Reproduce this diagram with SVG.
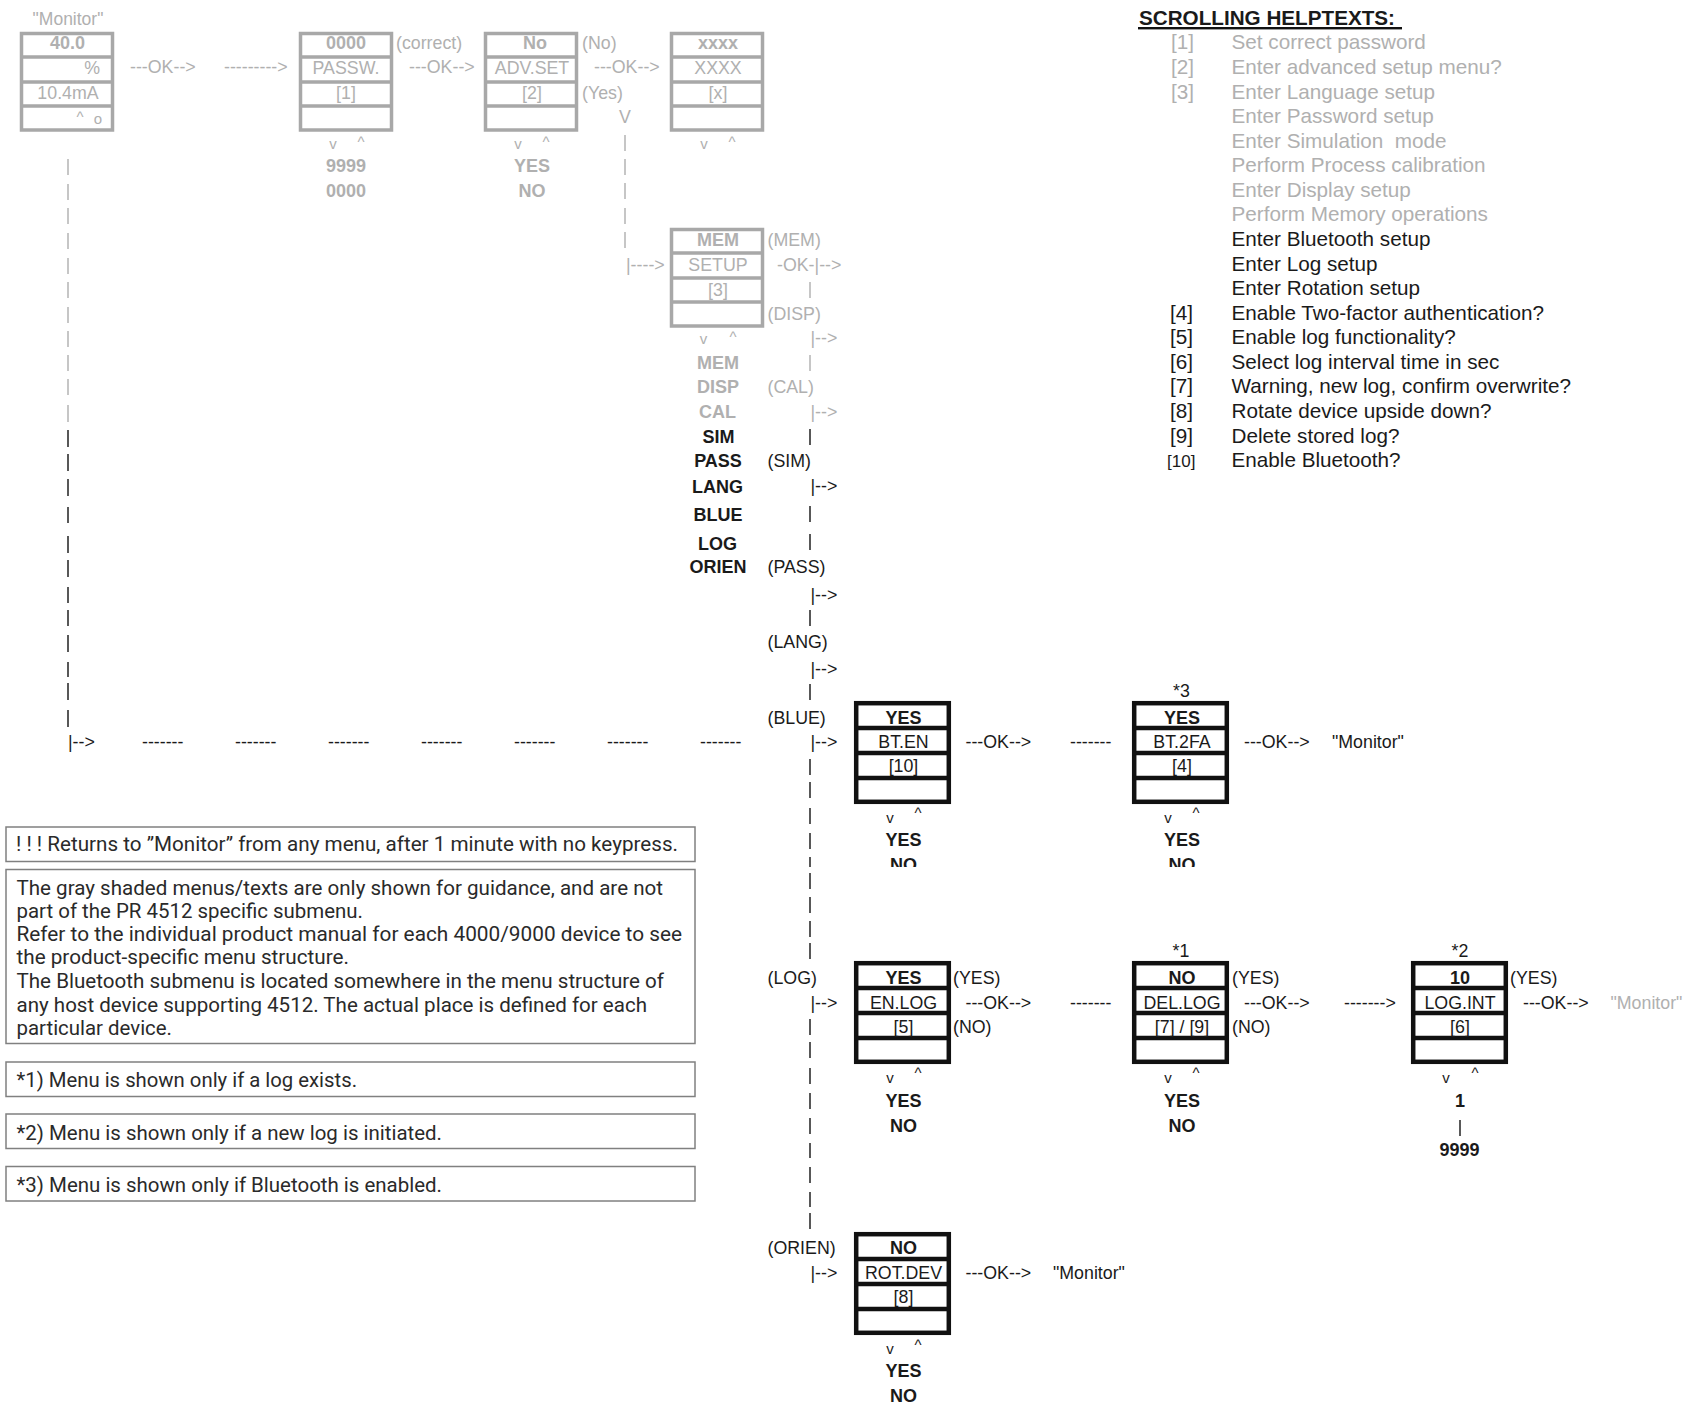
<svg xmlns="http://www.w3.org/2000/svg" width="1696" height="1410" viewBox="0 0 1696 1410">
<style>
text{font-family:"Liberation Sans",Arial,sans-serif;font-size:17.8px;fill:#1a1a1a}
.g,.g text{fill:#b0b0b0}
.c{text-anchor:middle}
.b{font-weight:bold;font-size:18px}
.gb{font-weight:bold;font-size:18px;fill:#a2a2a2}
.sm{font-size:15px}
.box{fill:#fff;stroke:#111;stroke-width:4.5}
.gbox{fill:#fff;stroke:#a8a8a8;stroke-width:3.5}
.h{font-size:20.7px}
.n{font-family:Roboto,"Open Sans",sans-serif;font-size:20px;fill:#2a2a2a}
.nb{fill:#fff;stroke:#808080;stroke-width:1.5}
.pg{fill:none;stroke:#b4b4b4;stroke-width:1.5}
.pb{fill:none;stroke:#222;stroke-width:1.5}
</style>
<defs>
<g id="gm"><rect class="gbox" x="1.500" y="1.500" width="91" height="96.500"/><path class="gbox" d="M0 25H94M0 50H94M0 74H94"/></g>
<g id="bm"><rect class="box" x="2.200" y="2.200" width="92.600" height="98.600"/><path class="box" d="M0 27H97M0 52H97M0 77H97"/></g>
<clipPath id="cut"><rect x="800" y="840" width="500" height="27"/></clipPath>
</defs>

<g id="connectors">
<path class="pg" d="M68 159v16M68 184v16M68 208v16M68 233v16M68 258v16M68 282v16M68 307v16M68 331v16M68 355v16M68 379v16M68 405v17"/>
<path class="pb" d="M68 430v17M68 454v17M68 479v17M68 507v16M68 536v17M68 560v17M68 587v16M68 610v16M68 635v17M68 662v15M68 683v17M68 710v17"/>
<path class="pg" d="M625 135v16M625 159v16M625 183v16M625 208v16M625 232v16"/>
<path class="pg" d="M810 282v16M810 355v16"/>
<path class="pb" d="M810 429v16M810 506v16M810 534v16M810 610v16M810 684v16M810 759v16M810 782v16M810 808v16M810 833v16M810 857v10M810 873v16M810 897v16M810 921v16M810 943v16M810 1019v16M810 1042v16M810 1068v16M810 1093v16M810 1118v16M810 1143v15M810 1167v16M810 1192v15M810 1213v16"/>
<path class="pb" d="M1460 1120v16"/>
<g class="g">
<text x="130" y="73">---OK--&gt;</text>
<text x="224" y="73">---------&gt;</text>
<text x="409" y="73">---OK--&gt;</text>
<text x="594" y="73">---OK--&gt;</text>
<text x="625" y="123" class="c">V</text>
<text x="626" y="271">|----&gt;</text>
<text x="777" y="271">-OK-|--&gt;</text>
<text x="810.500" y="344">|--&gt;</text>
<text x="810.500" y="418">|--&gt;</text>
</g>
<text x="810.500" y="492">|--&gt;</text>
<text x="810.500" y="600.500">|--&gt;</text>
<text x="810.500" y="674.500">|--&gt;</text>
<text x="810.500" y="748">|--&gt;</text>
<text x="68" y="748">|--&gt;</text>
<text x="142" y="748">-------</text>
<text x="235" y="748">-------</text>
<text x="328" y="748">-------</text>
<text x="421" y="748">-------</text>
<text x="514" y="748">-------</text>
<text x="607" y="748">-------</text>
<text x="700" y="748">-------</text>
<text x="965.500" y="748">---OK--&gt;</text>
<text x="1070" y="748">-------</text>
<text x="1244" y="748">---OK--&gt;</text>
<text x="810.500" y="1009">|--&gt;</text>
<text x="965.500" y="1009">---OK--&gt;</text>
<text x="1070" y="1009">-------</text>
<text x="1244" y="1009">---OK--&gt;</text>
<text x="1344" y="1009">-------&gt;</text>
<text x="1523" y="1009">---OK--&gt;</text>
<text x="810.500" y="1279">|--&gt;</text>
<text x="965.500" y="1279">---OK--&gt;</text>
</g>

<g id="monitor" class="g">
<text x="68" y="25" class="c" style="font-size:17.500px">"Monitor"</text>
<use href="#gm" x="20" y="32"/>
<text x="67.500" y="49" class="c gb">40.0</text>
<text x="100" y="74" text-anchor="end">%</text>
<text x="68" y="99" class="c">10.4mA</text>
<text x="80" y="122" class="c sm">^</text>
<text x="98" y="124" class="c sm">o</text>
</g>
<g id="passw" class="g">
<use href="#gm" x="299" y="32"/>
<text x="346" y="49" class="c gb">0000</text>
<text x="346" y="74" class="c">PASSW.</text>
<text x="346" y="99" class="c">[1]</text>
<text x="333" y="149" class="c sm">v</text>
<text x="361" y="147" class="c sm">^</text>
<text x="346" y="172" class="c gb">9999</text>
<text x="346" y="197" class="c gb">0000</text>
<text x="396" y="49">(correct)</text>
</g>
<g id="advset" class="g">
<use href="#gm" x="484" y="32"/>
<text x="535" y="49" class="c gb">No</text>
<text x="532" y="74" class="c">ADV.SET</text>
<text x="532" y="99" class="c">[2]</text>
<text x="518" y="149" class="c sm">v</text>
<text x="546" y="147" class="c sm">^</text>
<text x="532" y="172" class="c gb">YES</text>
<text x="532" y="197" class="c gb">NO</text>
<text x="582" y="49">(No)</text>
<text x="582" y="99">(Yes)</text>
</g>
<g id="xxxx" class="g">
<use href="#gm" x="670" y="32"/>
<text x="718" y="49" class="c gb">xxxx</text>
<text x="718" y="74" class="c">XXXX</text>
<text x="718" y="99" class="c">[x]</text>
<text x="704" y="149" class="c sm">v</text>
<text x="732" y="147" class="c sm">^</text>
</g>
<g id="memsetup" class="g">
<use href="#gm" x="670" y="228"/>
<text x="718" y="246" class="c gb">MEM</text>
<text x="718" y="271" class="c">SETUP</text>
<text x="718" y="296" class="c">[3]</text>
<text x="703.500" y="344" class="c sm">v</text>
<text x="733" y="342" class="c sm">^</text>
<text x="718" y="369" class="c gb">MEM</text>
<text x="718" y="393" class="c gb">DISP</text>
<text x="717.500" y="418" class="c gb">CAL</text>
<text x="767.500" y="246">(MEM)</text>
<text x="767.500" y="320">(DISP)</text>
<text x="767.500" y="393">(CAL)</text>
</g>
<g id="memitems">
<text x="718.500" y="443" class="c b">SIM</text>
<text x="718" y="467" class="c b">PASS</text>
<text x="717.500" y="492.500" class="c b">LANG</text>
<text x="718" y="520.500" class="c b">BLUE</text>
<text x="717.500" y="549.500" class="c b">LOG</text>
<text x="718" y="573" class="c b">ORIEN</text>
<text x="767.500" y="467">(SIM)</text>
<text x="767.500" y="573">(PASS)</text>
<text x="767.500" y="648">(LANG)</text>
<text x="767.500" y="724">(BLUE)</text>
<text x="767.500" y="984">(LOG)</text>
<text x="767.500" y="1254">(ORIEN)</text>
</g>
<g id="bten">
<use href="#bm" x="854" y="701"/>
<text x="903.500" y="724" class="c b">YES</text>
<text x="903.500" y="748" class="c">BT.EN</text>
<text x="903.500" y="772" class="c">[10]</text>
<text x="890" y="823" class="c sm">v</text>
<text x="918" y="818" class="c sm">^</text>
<text x="903.500" y="846" class="c b">YES</text>
<text x="903.500" y="870.500" class="c b" clip-path="url(#cut)">NO</text>
</g>
<g id="bt2fa">
<use href="#bm" x="1132" y="701"/>
<text x="1181.500" y="697" class="c">*3</text>
<text x="1182" y="724" class="c b">YES</text>
<text x="1182" y="748" class="c">BT.2FA</text>
<text x="1182" y="772" class="c">[4]</text>
<text x="1168" y="823" class="c sm">v</text>
<text x="1196" y="818" class="c sm">^</text>
<text x="1182" y="846" class="c b">YES</text>
<text x="1182" y="870.500" class="c b" clip-path="url(#cut)">NO</text>
<text x="1332" y="748">"Monitor"</text>
</g>
<g id="enlog">
<use href="#bm" x="854" y="961"/>
<text x="903.500" y="984" class="c b">YES</text>
<text x="903.500" y="1009" class="c">EN.LOG</text>
<text x="903.500" y="1033" class="c">[5]</text>
<text x="953" y="984">(YES)</text>
<text x="953" y="1033">(NO)</text>
<text x="890" y="1083" class="c sm">v</text>
<text x="918" y="1078" class="c sm">^</text>
<text x="903.500" y="1107" class="c b">YES</text>
<text x="903.500" y="1132" class="c b">NO</text>
</g>
<g id="dellog">
<use href="#bm" x="1132" y="961"/>
<text x="1181" y="957" class="c">*1</text>
<text x="1182" y="984" class="c b">NO</text>
<text x="1182" y="1009" class="c">DEL.LOG</text>
<text x="1182" y="1033" class="c">[7] / [9]</text>
<text x="1232" y="984">(YES)</text>
<text x="1232" y="1033">(NO)</text>
<text x="1168" y="1083" class="c sm">v</text>
<text x="1196" y="1078" class="c sm">^</text>
<text x="1182" y="1107" class="c b">YES</text>
<text x="1182" y="1132" class="c b">NO</text>
</g>
<g id="logint">
<use href="#bm" x="1411" y="961"/>
<text x="1460" y="957" class="c">*2</text>
<text x="1460" y="984" class="c b">10</text>
<text x="1460" y="1009" class="c">LOG.INT</text>
<text x="1460" y="1033" class="c">[6]</text>
<text x="1510" y="984">(YES)</text>
<text x="1446" y="1083" class="c sm">v</text>
<text x="1475" y="1078" class="c sm">^</text>
<text x="1460" y="1107" class="c b">1</text>
<text x="1459.500" y="1156" class="c b">9999</text>
<text x="1610.500" y="1009" style="fill:#b0b0b0">"Monitor"</text>
</g>
<g id="rotdev">
<use href="#bm" x="854" y="1232"/>
<text x="903.500" y="1254" class="c b">NO</text>
<text x="903.500" y="1279" class="c">ROT.DEV</text>
<text x="903.500" y="1303" class="c">[8]</text>
<text x="890" y="1354" class="c sm">v</text>
<text x="918" y="1350" class="c sm">^</text>
<text x="903.500" y="1377" class="c b">YES</text>
<text x="903.500" y="1402" class="c b">NO</text>
<text x="1053" y="1279">"Monitor"</text>
</g>

<g id="helptexts">
<text x="1139" y="25" class="b" style="font-size:20px" textLength="256" lengthAdjust="spacingAndGlyphs">SCROLLING HELPTEXTS:</text>
<rect x="1138" y="27" width="264" height="2.400" fill="#111"/>
<g class="g">
<text x="1171" y="49" class="h">[1]</text><text x="1231.500" y="49" class="h">Set correct password</text>
<text x="1171" y="74" class="h">[2]</text><text x="1231.500" y="74" class="h">Enter advanced setup menu?</text>
<text x="1171" y="99" class="h">[3]</text><text x="1231.500" y="99" class="h">Enter Language setup</text>
<text x="1231.500" y="123" class="h">Enter Password setup</text>
<text x="1231.500" y="148" class="h" xml:space="preserve">Enter Simulation  mode</text>
<text x="1231.500" y="172" class="h">Perform Process calibration</text>
<text x="1231.500" y="197" class="h">Enter Display setup</text>
<text x="1231.500" y="221" class="h">Perform Memory operations</text>
</g>
<text x="1231.500" y="246" class="h">Enter Bluetooth setup</text>
<text x="1231.500" y="271" class="h">Enter Log setup</text>
<text x="1231.500" y="295" class="h">Enter Rotation setup</text>
<text x="1170" y="320" class="h">[4]</text><text x="1231.500" y="320" class="h">Enable Two-factor authentication?</text>
<text x="1170" y="344" class="h">[5]</text><text x="1231.500" y="344" class="h">Enable log functionality?</text>
<text x="1170" y="369" class="h">[6]</text><text x="1231.500" y="369" class="h">Select log interval time in sec</text>
<text x="1170" y="393" class="h">[7]</text><text x="1231.500" y="393" class="h">Warning, new log, confirm overwrite?</text>
<text x="1170" y="418" class="h">[8]</text><text x="1231.500" y="418" class="h">Rotate device upside down?</text>
<text x="1170" y="442.500" class="h">[9]</text><text x="1231.500" y="442.500" class="h">Delete stored log?</text>
<text x="1167" y="467" style="font-size:17px">[10]</text><text x="1231.500" y="467" class="h">Enable Bluetooth?</text>
</g>

<g id="note-returns">
<rect class="nb" x="6" y="827" width="689" height="34.500"/>
<text class="n" x="16" y="851" textLength="662" lengthAdjust="spacingAndGlyphs">! ! ! Returns to ”Monitor” from any menu, after 1 minute with no keypress.</text>
</g>
<g id="note-guidance">
<rect class="nb" x="6" y="869.500" width="689" height="174"/>
<text class="n" x="16.500" y="894.500" textLength="646.500" lengthAdjust="spacingAndGlyphs">The gray shaded menus/texts are only shown for guidance, and are not</text>
<text class="n" x="16.500" y="918" textLength="346.500" lengthAdjust="spacingAndGlyphs">part of the PR 4512 specific submenu.</text>
<text class="n" x="16.500" y="941" textLength="665.500" lengthAdjust="spacingAndGlyphs">Refer to the individual product manual for each 4000/9000 device to see</text>
<text class="n" x="16.500" y="964" textLength="332.500" lengthAdjust="spacingAndGlyphs">the product-specific menu structure.</text>
<text class="n" x="16.500" y="988" textLength="647.500" lengthAdjust="spacingAndGlyphs">The Bluetooth submenu is located somewhere in the menu structure of</text>
<text class="n" x="16.500" y="1012" textLength="630.500" lengthAdjust="spacingAndGlyphs">any host device supporting 4512. The actual place is defined for each</text>
<text class="n" x="16.500" y="1035" textLength="155.500" lengthAdjust="spacingAndGlyphs">particular device.</text>
</g>
<g id="note-1">
<rect class="nb" x="6" y="1062" width="689" height="34.500"/>
<text class="n" x="16.500" y="1087" textLength="340.500" lengthAdjust="spacingAndGlyphs">*1) Menu is shown only if a log exists.</text>
</g>
<g id="note-2">
<rect class="nb" x="6" y="1114" width="689" height="34.500"/>
<text class="n" x="16.500" y="1140" textLength="425.500" lengthAdjust="spacingAndGlyphs">*2) Menu is shown only if a new log is initiated.</text>
</g>
<g id="note-3">
<rect class="nb" x="6" y="1166.500" width="689" height="34.500"/>
<text class="n" x="16.500" y="1192" textLength="425.500" lengthAdjust="spacingAndGlyphs">*3) Menu is shown only if Bluetooth is enabled.</text>
</g>
</svg>
